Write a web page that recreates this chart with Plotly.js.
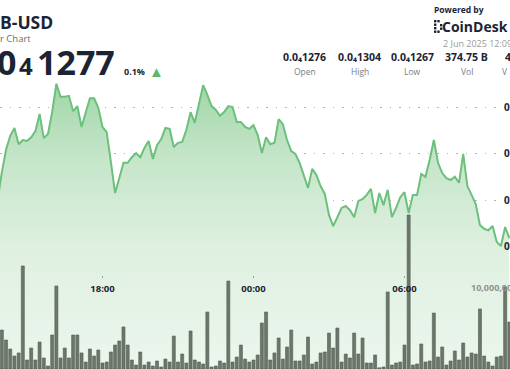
<!DOCTYPE html>
<html><head><meta charset="utf-8">
<script src="https://cdn.plot.ly/plotly-3.0.1.min.js"></script>
<style>html,body{margin:0;padding:0;background:#fff;overflow:hidden}#chart{width:510px;height:369px}</style>
</head><body><div id="chart"></div>
<script>
// ---- data ----
const PRICE_START = '2025-06-01T13:50:00';
const VOLUME_START = '2025-06-01T14:00:00';
const STEP_MINUTES = 10;
// SHIB price x 1e8 (i.e. 1286.0 means 0.0₄1286), one point every 10 minutes
const PRICE_E8 = [1280.0,1286.0,1290.8,1293.8,1295.5,1292.0,1292.9,1292.7,1293.5,1294.8,
 1298.5,1293.3,1294.2,1298.9,1305.0,1302.2,1302.2,1302.4,1299.1,1300.2,
 1295.7,1298.7,1301.9,1301.9,1299.8,1295.7,1294.6,1288.2,1281.5,1284.7,
 1288.0,1288.0,1289.2,1290.1,1289.2,1291.2,1292.7,1288.8,1291.8,1293.1,
 1295.5,1295.3,1291.4,1292.3,1292.5,1295.1,1298.9,1296.6,1300.4,1304.7,
 1302.6,1300.2,1299.4,1298.1,1298.9,1300.2,1300.0,1296.8,1296.8,1295.7,
 1295.3,1296.1,1294.0,1290.1,1293.5,1292.0,1292.3,1297.4,1296.3,1292.9,
 1290.5,1289.9,1288.0,1285.4,1282.6,1286.7,1285.4,1283.0,1281.3,1276.8,
 1274.4,1276.3,1278.3,1278.7,1277.8,1276.3,1279.8,1280.2,1281.1,1282.4,
 1277.2,1281.5,1278.9,1282.2,1276.3,1278.3,1280.6,1281.7,1277.2,1281.1,
 1281.1,1285.6,1285.0,1288.6,1292.9,1288.0,1285.8,1284.7,1284.3,1285.0,
 1283.7,1289.9,1283.0,1281.1,1279.1,1274.6,1273.8,1273.5,1274.4,1271.0,
 1270.1,1274.2,1271.8];
// volume per 10 minutes, in billions
const VOLUME_B = [4.81,3.58,2.47,1.60,1.98,12.72,1.11,2.59,1.11,3.33,
 1.36,0.37,4.20,10.25,1.36,2.59,1.36,4.20,4.20,1.98,
 0.86,2.47,1.60,2.35,0.74,0.86,2.10,2.96,3.46,5.19,
 2.96,1.11,0.49,2.10,0.49,0.86,0.37,0.99,0.25,1.23,
 0.86,4.07,0.86,1.85,0.74,4.69,1.11,0.86,0.62,7.04,
 0.25,0.37,0.99,0.74,10.86,0.86,1.48,2.96,1.23,0.86,
 1.11,1.73,5.68,7.04,1.11,1.98,3.83,1.23,2.72,4.81,
 0.99,0.99,1.73,3.95,0.62,0.86,1.98,2.10,4.44,2.59,
 5.06,0.86,1.85,1.36,4.44,1.85,3.83,0.74,0.74,1.73,
 0.15,0.25,9.51,0.49,0.74,0.86,2.96,19.01,0.49,0.62,
 3.09,0.86,0.99,6.91,1.48,2.72,0.49,0.99,2.22,1.11,
 3.21,1.48,1.98,1.85,7.41,1.60,0.86,0.37,1.48,1.60,
 10.12,5.80];
const PRICE_TICKS = [1270, 1280, 1290, 1300];
const PRICE_TICK_TEXT = ['0.0₄1270', '0.0₄1280', '0.0₄1290', '0.0₄1300'];
const VOLUME_TICKS = [10];
const VOLUME_TICK_TEXT = ['10,000,000,000'];
const TIME_TICKS = ['2025-06-01 18:00', '2025-06-02 00:00', '2025-06-02 06:00'];
const TIME_TICK_TEXT = ['18:00', '00:00', '06:00'];
const X_RANGE = ['2025-06-01 13:55:36', '2025-06-02 10:11:36'];
const STAT_VALUES = ['0.0₄1276', '0.0₄1304', '0.0₄1267', '374.75 B', '4'];
const STAT_LABELS = ['Open', 'High', 'Low', 'Vol', 'V'];
const TICKER = 'B-USD';
const SUBTITLE = 'r Chart';
const LAST_PRICE_PARTS = ['0', '4', '1277'];
const CHANGE_TEXT = '0.1%';
const DATE_TEXT = '2 Jun 2025 12:09';

// ---- helpers ----
function timeSeries(start, n) {
  const t0 = Date.parse(start + 'Z');
  const out = [];
  for (let i = 0; i < n; i++) out.push(new Date(t0 + i * STEP_MINUTES * 60000).toISOString().slice(0, 19).replace('T', ' '));
  return out;
}
const W = 510, H = 369;
const px = x => x / W, py = y => 1 - y / H;
const DARK = '#1b2433', GRAY = '#777d85';
const FONT = 'Open Sans, Noto Sans, sans-serif';

const priceTimes = timeSeries(PRICE_START, PRICE_E8.length);
const volTimes = timeSeries(VOLUME_START, VOLUME_B.length);

const yMin = 1243.66, yMax = 1323.01;

const traces = [
  {
    type: 'scatter', mode: 'lines', x: priceTimes, y: PRICE_E8,
    line: {color: '#6cc07b', width: 2},
    fill: 'tozeroy',
    fillgradient: {type: 'vertical', start: yMin, stop: 1305,
      colorscale: [[0, 'rgb(236,246,238)'], [0.43, 'rgb(222,240,224)'], [0.75, 'rgb(196,229,200)'], [1, 'rgb(160,214,168)']]},
    hoverinfo: 'skip'
  },
  {
    type: 'bar', x: volTimes, y: VOLUME_B, yaxis: 'y2',
    marker: {color: '#6d766b', line: {color: '#535c51', width: 0.6}},
    hoverinfo: 'skip'
  }
];

function ann(text, x, y, size, color, bold, extra) {
  return Object.assign({text: bold ? '<b>' + text + '</b>' : text, x: px(x), y: py(y), xref: 'paper', yref: 'paper',
    xanchor: 'left', yanchor: 'middle', showarrow: false, borderpad: 0,
    font: {family: FONT, size: size, color: color}}, extra || {});
}

const annotations = [
  ann(TICKER, -1, 22, 17.5, DARK, true),
  ann(SUBTITLE, -1, 38, 9.5, '#6e6e6e', false),
  ann(LAST_PRICE_PARTS[0], -4, 62, 34, DARK, true),
  ann(LAST_PRICE_PARTS[1], 18, 66, 24, DARK, true),
  ann(LAST_PRICE_PARTS[2], 36, 62, 34, DARK, true),
  ann(CHANGE_TEXT, 123, 72, 9, DARK, true),
  ann('▲', 148, 71, 15, '#5cb96b', false),
  ann('Powered by', 433, 9.5, 8.5, DARK, true),
  ann('CoinDesk', 441, 27, 14, DARK, true),
  ann(DATE_TEXT, 442, 44, 9, '#9a9a9a', false)
];
const statCenters = [304.5, 359.5, 412.5, 466.5];
STAT_VALUES.forEach((v, i) => {
  if (i < 4) annotations.push(ann(v, statCenters[i], 57, 10.5, DARK, true, {xanchor: 'center'}));
  else annotations.push(ann(v, 504, 57, 10.5, DARK, true));
});
STAT_LABELS.forEach((v, i) => {
  if (i < 4) annotations.push(ann(v, statCenters[i], 71, 8.5, GRAY, false, {xanchor: 'center'}));
  else annotations.push(ann(v, 501, 71, 8.5, GRAY, false));
});

// CoinDesk logo mark: dotted bracket
const shapes = [];
const dots = [[434,20],[434,23.5],[434,27],[434,30.5],[437.3,20],[437.3,30.5],[440,24],[440,27.5]];
dots.forEach(d => shapes.push({type: 'rect', xref: 'paper', yref: 'paper',
  x0: px(d[0]), x1: px(d[0] + 2.4), y0: py(d[1] + 2.4), y1: py(d[1]), fillcolor: DARK, line: {width: 0}}));

const layout = {
  width: W, height: H, margin: {l: 0, r: 0, t: 0, b: 0, pad: 0},
  paper_bgcolor: '#ffffff', plot_bgcolor: 'rgba(0,0,0,0)',
  showlegend: false, bargap: 0.28, hovermode: false,
  font: {family: FONT},
  xaxis: {type: 'date', range: X_RANGE, anchor: 'free', position: py(275),
    tickmode: 'array', tickvals: TIME_TICKS, ticktext: TIME_TICK_TEXT,
    ticks: 'outside', ticklen: 2, tickwidth: 1.5, tickcolor: '#a0a0a0', ticklabelstandoff: 3,
    showgrid: false, zeroline: false, showline: false,
    tickfont: {family: FONT, size: 9.5, color: DARK, weight: 700}},
  yaxis: {range: [yMin, yMax], anchor: 'free', position: px(503), side: 'right',
    tickmode: 'array', tickvals: PRICE_TICKS, ticktext: PRICE_TICK_TEXT,
    showgrid: true, gridcolor: '#b3b3b3', griddash: '1.5px,8px', gridwidth: 1,
    zeroline: false, showline: false, ticks: '',
    tickfont: {family: FONT, size: 10, color: DARK, weight: 700}},
  yaxis2: {overlaying: 'y', range: [0, 369 / 8.1], anchor: 'free', position: px(470), side: 'right',
    tickmode: 'array', tickvals: VOLUME_TICKS, ticktext: VOLUME_TICK_TEXT,
    showgrid: true, gridcolor: '#bdbdbd', griddash: '1.5px,8px', gridwidth: 1,
    zeroline: false, showline: false, ticks: '',
    tickfont: {family: FONT, size: 9, color: '#8f9490', weight: 700}},
  annotations: annotations,
  shapes: shapes
};

Plotly.newPlot('chart', traces, layout, {staticPlot: true, displayModeBar: false});
</script>
</body></html>
